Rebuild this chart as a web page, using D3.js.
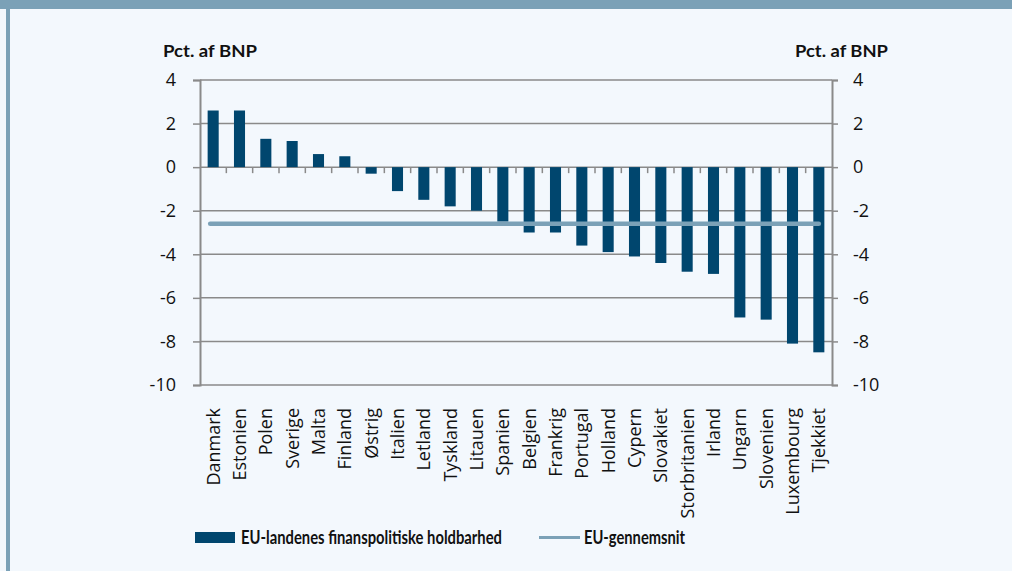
<!DOCTYPE html>
<html>
<head>
<meta charset="utf-8">
<script src="https://cdn.jsdelivr.net/npm/d3@7"></script>
<style>
  body { margin: 0; background: #f3f8fd; }
  svg { display: block; }
  .tick text { font-family: "Open Sans", sans-serif; font-size: 18px; fill: #111; }
</style>
</head>
<body>
<div id="chart"></div>
<script>
(function() {

    var countries = ["Danmark", "Estonien", "Polen", "Sverige", "Malta", "Finland", "Østrig", "Italien",
        "Letland", "Tyskland", "Litauen", "Spanien", "Belgien", "Frankrig", "Portugal", "Holland",
        "Cypern", "Slovakiet", "Storbritanien", "Irland", "Ungarn", "Slovenien", "Luxembourg", "Tjekkiet"];
    var holdbarhed = [2.6, 2.6, 1.3, 1.2, 0.6, 0.5, -0.3, -1.1, -1.5, -1.8, -2.0, -2.5, -3.0, -3.0,
        -3.6, -3.9, -4.1, -4.4, -4.8, -4.9, -6.9, -7.0, -8.1, -8.5];
    var euAverage = -2.6;
    var yTicks = [4, 2, 0, -2, -4, -6, -8, -10];
    var unitLabel = "Pct. af BNP";
    var legendBars = "EU-landenes finanspolitiske holdbarhed";
    var legendLine = "EU-gennemsnit";

    var width = 1012;
    var height = 571;
    var left = 200, right = 832, top = 80, bottom = 385;
    var barColor = "#00466e";
    var lineColor = "#7ba1b7";
    var gridColor = "#8a8a8a";

    var svg = d3.select("#chart").append("svg")
        .attr("width", width)
        .attr("height", height);

    // frame
    svg.append("rect").attr("x", 0).attr("y", 0).attr("width", width).attr("height", height).attr("fill", "#f3f8fd");
    svg.append("rect").attr("x", 0).attr("y", 0).attr("width", width).attr("height", 9).attr("fill", lineColor);
    svg.append("rect").attr("x", 6).attr("y", 0).attr("width", 4).attr("height", height).attr("fill", lineColor);

    var x = d3.scaleBand()
        .domain(countries)
        .range([left, right])
        .paddingInner(0.58)
        .paddingOuter(0.29);

    var y = d3.scaleLinear()
        .domain([-10, 4])
        .range([bottom, top]);

    // gridlines
    svg.append("g")
        .selectAll("line")
        .data(yTicks)
        .enter().append("line")
        .attr("x1", left)
        .attr("x2", right)
        .attr("y1", function(d) { return y(d); })
        .attr("y2", function(d) { return y(d); })
        .attr("stroke", gridColor)
        .attr("stroke-width", 1.5);

    // axes (plain hyphen for negatives, like the original)
    var fmt = function(d) { return String(d); };
    var yLeft = svg.append("g")
        .attr("transform", "translate(" + left + ",0)")
        .call(d3.axisLeft(y).tickValues(yTicks).tickFormat(fmt).tickSize(7).tickPadding(17));
    var yRight = svg.append("g")
        .attr("transform", "translate(" + right + ",0)")
        .call(d3.axisRight(y).tickValues(yTicks).tickFormat(fmt).tickSize(6).tickPadding(15));
    [yLeft, yRight].forEach(function(g) {
        g.select(".domain").attr("stroke", gridColor).attr("stroke-width", 2);
        g.selectAll(".tick line").attr("stroke", gridColor).attr("stroke-width", 1.5);
    });
    yLeft.selectAll(".tick text").attr("text-anchor", "end");

    // category ticks along the zero line
    var step = x.step();
    svg.append("g")
        .selectAll("line")
        .data(d3.range(1, countries.length))
        .enter().append("line")
        .attr("x1", function(i) { return left + step * i; })
        .attr("x2", function(i) { return left + step * i; })
        .attr("y1", y(0))
        .attr("y2", y(0) + 6)
        .attr("stroke", gridColor)
        .attr("stroke-width", 1.5);

    // bars
    svg.append("g")
        .selectAll("rect")
        .data(holdbarhed)
        .enter().append("rect")
        .attr("x", function(d, i) { return x(countries[i]); })
        .attr("width", x.bandwidth())
        .attr("y", function(d) { return y(Math.max(0, d)); })
        .attr("height", function(d) { return Math.abs(y(d) - y(0)); })
        .attr("fill", barColor);

    // EU average line
    svg.append("line")
        .attr("x1", x(countries[0]) + x.bandwidth() / 2 - 3)
        .attr("x2", x(countries[countries.length - 1]) + x.bandwidth() / 2)
        .attr("y1", y(euAverage))
        .attr("y2", y(euAverage))
        .attr("stroke", lineColor)
        .attr("stroke-width", 4.5)
        .attr("stroke-linecap", "round");

    // category labels
    svg.append("g")
        .selectAll("text")
        .data(countries)
        .enter().append("text")
        .attr("transform", function(d) {
            return "translate(" + (x(d) + x.bandwidth() / 2 + 6.5) + "," + (y(-10) + 23) + ") rotate(-90)";
        })
        .attr("text-anchor", "end")
        .attr("font-family", "Open Sans, sans-serif")
        .attr("font-size", 18)
        .attr("fill", "#111")
        .text(function(d) { return d; });

    // unit labels
    svg.append("text")
        .attr("x", 163).attr("y", 57)
        .attr("font-family", "Lato, sans-serif")
        .attr("font-weight", "bold")
        .attr("font-size", 17)
        .attr("fill", "#111")
        .attr("textLength", 94)
        .attr("lengthAdjust", "spacingAndGlyphs")
        .text(unitLabel);
    svg.append("text")
        .attr("x", 795).attr("y", 57)
        .attr("font-family", "Lato, sans-serif")
        .attr("font-weight", "bold")
        .attr("font-size", 17)
        .attr("fill", "#111")
        .attr("textLength", 93)
        .attr("lengthAdjust", "spacingAndGlyphs")
        .text(unitLabel);

    // legend
    var legend = svg.append("g").attr("class", "legend");
    legend.append("rect")
        .attr("x", 195).attr("y", 532)
        .attr("width", 40).attr("height", 11)
        .attr("fill", barColor);
    legend.append("text")
        .attr("x", 241).attr("y", 544)
        .attr("font-family", "Lato, sans-serif")
        .attr("font-weight", "bold")
        .attr("font-size", 18)
        .attr("fill", "#111")
        .attr("textLength", 261)
        .attr("lengthAdjust", "spacingAndGlyphs")
        .text(legendBars);
    legend.append("line")
        .attr("x1", 539).attr("x2", 580)
        .attr("y1", 537.5).attr("y2", 537.5)
        .attr("stroke", lineColor)
        .attr("stroke-width", 3);
    legend.append("text")
        .attr("x", 584).attr("y", 544)
        .attr("font-family", "Lato, sans-serif")
        .attr("font-weight", "bold")
        .attr("font-size", 18)
        .attr("fill", "#111")
        .attr("textLength", 101)
        .attr("lengthAdjust", "spacingAndGlyphs")
        .text(legendLine);

})();
</script>
</body>
</html>
